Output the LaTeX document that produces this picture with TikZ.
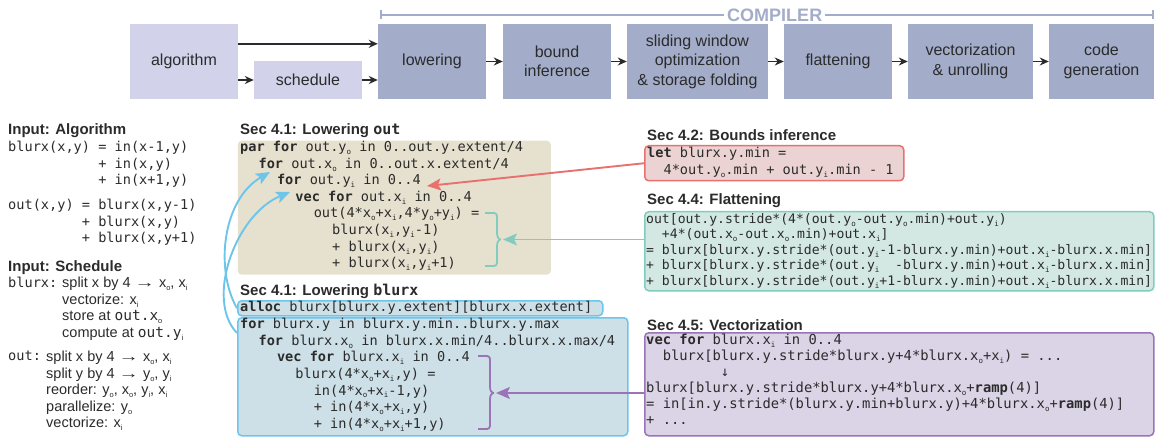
\documentclass[tikz,border=0pt]{standalone}
\usepackage{fontspec}
\setmainfont{Liberation Sans}
\setmonofont{DejaVu Sans Mono}
\usetikzlibrary{arrows.meta,calc}

\definecolor{inkgray}{HTML}{2B2B2B}
\definecolor{inputblue}{HTML}{D2D3EA}
\definecolor{stageblue}{HTML}{A3ADCA}
\definecolor{tanfill}{HTML}{E6E0CE}
\definecolor{skyline}{HTML}{6DC5EA}
\definecolor{skyfill}{HTML}{CEE0E7}
\definecolor{redline}{HTML}{E8716F}
\definecolor{redfill}{HTML}{ECD3D3}
\definecolor{tealline}{HTML}{80CDC0}
\definecolor{tealfill}{HTML}{D3E8E2}
\definecolor{purpline}{HTML}{9B73B7}
\definecolor{purpfill}{HTML}{DBD3E6}

\newcommand{\idx}[1]{\raisebox{-0.4ex}{\fontsize{7.5}{7.5}\selectfont #1}}
\newcommand{\kw}[1]{\textbf{#1}}
\newcommand{\ind}[1]{\hspace*{#1\dimexpr18.4pt\relax}}
\newcommand{\col}[1]{\hspace*{#1\fontcharwd\font`0}}
\newcommand{\splitarrow}{\scalebox{1.4}[1]{→}}
\newcommand{\codesize}{\ttfamily\fontsize{13.6}{16.6}\selectfont}

\begin{document}
\begin{tikzpicture}[x=1pt, y=-1pt, text=inkgray,
    stage/.style={fill=stageblue, minimum height=75, align=center, inner sep=0pt, font=\fontsize{16}{19.5}\selectfont},
    inputbox/.style={fill=inputblue, align=center, inner sep=0pt, font=\fontsize{16}{19.5}\selectfont},
    flow/.style={-{Stealth[length=9pt,width=8pt]}, line width=1.6pt, draw=inkgray},
    head/.style={anchor=base west, inner sep=0pt, font=\bfseries\fontsize{15}{18}\selectfont},
    code/.style={anchor=north west, inner sep=0pt, align=left, font=\codesize},
    note/.style={anchor=north west, inner sep=0pt, align=left, font=\fontsize{14.5}{16.5}\selectfont},
    panel/.style={anchor=north west, inner sep=0pt, rounded corners=4pt, line width=1.5pt},
    hint/.style={line width=1.9pt, -{Stealth[length=14pt,width=12pt,inset=3pt]}},
    brace/.style={line width=1.8pt, rounded corners=3pt}]

        \useasboundingbox (0,0) rectangle (1156,438);

        % The pipeline along the top
        \node[inputbox, minimum width=108, minimum height=75] (alg) at (184,61.5) {algorithm};
        \node[inputbox, minimum width=108, minimum height=38] (sched) at (308,80) {schedule};
        \node[stage, minimum width=108] (lower) at (432,61.5) {lowering};
        \node[stage, minimum width=108] (bound) at (557,61.5) {bound\\inference};
        \node[stage, minimum width=141] (slide) at (697.5,61.5) {sliding window\\optimization\\\& storage folding};
        \node[stage, minimum width=108] (flat) at (838,61.5) {flattening};
        \node[stage, minimum width=125] (vecu) at (970.5,61.5) {vectorization\\\& unrolling};
        \node[stage, minimum width=105] (cgen) at (1101.5,61.5) {code\\generation};

        \draw[flow] ($(alg.north east)+(0,20)$) -- ($(lower.north west)+(0,20)$);
        \draw[flow] (alg.east |- sched.west) -- (sched.west);
        \draw[flow] (sched.east) -- (sched.east -| lower.west);
        \foreach \a/\b in {lower/bound, bound/slide, slide/flat, flat/vecu, vecu/cgen}
            \draw[flow] (\a) -- (\b);

        % Bracket over the compiler stages
        \coordinate (cmpl) at (380,15);
        \coordinate (cmpr) at (1154,15);
        \draw[stageblue, line width=1.6pt, {Bar[width=9pt]}-{Bar[width=9pt]}] (cmpl) -- node[pos=0.51, fill=white, text=stageblue, inner xsep=3pt, inner ysep=1pt, font=\bfseries\fontsize{18}{18}\selectfont] (cmplbl) {COMPILER} (cmpr);

        % Left column: the inputs
        \node[head] (inalg) at (8,135) {Input: Algorithm};
        \node[code] (algcode) at (8,141) {blurx(x,y) = in(x-1,y)\\\col{11}+ in(x,y)\\\col{11}+ in(x+1,y)};
        \node[code] (outcode) at (8,199) {out(x,y) = blurx(x,y-1)\\\col{9}+ blurx(x,y)\\\col{9}+ blurx(x,y+1)};

        \node[head] (insched) at (8,272) {Input: Schedule};
        \node[code] (blurxlbl) at (8,277) {blurx:};
        \node[note] (blurxsch) at (62,277) {split x by 4 \splitarrow{} x\idx{o}, x\idx{i}\\vectorize: x\idx{i}\\store at \texttt{out.x}\idx{o}\\compute at \texttt{out.y}\idx{i}};
        \node[code] (outlbl) at (8,351) {out:};
        \node[note] (outsch) at (46,351) {split x by 4 \splitarrow{} x\idx{o}, x\idx{i}\\split y by 4 \splitarrow{} y\idx{o}, y\idx{i}\\reorder: y\idx{o}, x\idx{o}, y\idx{i}, x\idx{i}\\parallelize: y\idx{o}\\vectorize: x\idx{i}};

        % Middle column: lowering out
        \node[head] (lowohead) at (240,135) {Sec 4.1: Lowering \texttt{out}};
        \node[panel, fill=tanfill, minimum width=313, minimum height=134] (lowobox) at (237,140) {};
        \node[code] (lowocode) at (240,141) {\kw{par for} out.y\idx{o} in 0..out.y.extent/4\\
            \ind{1}\kw{for} out.x\idx{o} in 0..out.x.extent/4\\
            \ind{2}\kw{for} out.y\idx{i} in 0..4\\
            \ind{3}\kw{vec for} out.x\idx{i} in 0..4\\
            \ind{4}out(4*x\idx{o}+x\idx{i},4*y\idx{o}+y\idx{i}) =\\
            \ind{5}blurx(x\idx{i},y\idx{i}-1)\\
            \ind{5}+ blurx(x\idx{i},y\idx{i})\\
            \ind{5}+ blurx(x\idx{i},y\idx{i}+1)};

        % Middle column: lowering blurx
        \node[head] (lowbhead) at (240,295) {Sec 4.1: Lowering \texttt{blurx}};
        \node[panel, draw=skyline, fill=skyfill, minimum width=365, minimum height=15] (allocbox) at (237,300) {};
        \node[code] (alloccode) at (240,301) {\kw{alloc} blurx[blurx.y.extent][blurx.x.extent]};
        \node[panel, draw=skyline, fill=skyfill, minimum width=390, minimum height=118] (forbox) at (237,317) {};
        \node[code] (forcode) at (240,318) {\kw{for} blurx.y in blurx.y.min..blurx.y.max\\
            \ind{1}\kw{for} blurx.x\idx{o} in blurx.x.min/4..blurx.x.max/4\\
            \ind{2}\kw{vec for} blurx.x\idx{i} in 0..4\\
            \ind{3}blurx(4*x\idx{o}+x\idx{i},y) =\\
            \ind{4}in(4*x\idx{o}+x\idx{i}-1,y)\\
            \ind{4}+ in(4*x\idx{o}+x\idx{i},y)\\
            \ind{4}+ in(4*x\idx{o}+x\idx{i}+1,y)};

        % Right column: bounds inference
        \node[head] (bndhead) at (647,141) {Sec 4.2: Bounds inference};
        \node[panel, draw=redline, fill=redfill, minimum width=259, minimum height=35] (bndbox) at (644,145) {};
        \node[code] (bndcode) at (647,147) {\kw{let} blurx.y.min =\\\col{2}4*out.y\idx{o}.min + out.y\idx{i}.min - 1};

        % Right column: flattening
        \node[head] (flathead) at (647,205) {Sec 4.4: Flattening};
        \node[panel, draw=tealline, fill=tealfill, minimum width=509, minimum height=79] (flatbox) at (644,211) {};
        \node[code, font=\ttfamily\fontsize{13.1}{15.5}\selectfont] (flatcode) at (646,213) {out[out.y.stride*(4*(out.y\idx{o}-out.y\idx{o}.min)+out.y\idx{i})\\
            \col{2}+4*(out.x\idx{o}-out.x\idx{o}.min)+out.x\idx{i}]\\
            = blurx[blurx.y.stride*(out.y\idx{i}-1-blurx.y.min)+out.x\idx{i}-blurx.x.min]\\
            + blurx[blurx.y.stride*(out.y\idx{i}\col{2}-blurx.y.min)+out.x\idx{i}-blurx.x.min]\\
            + blurx[blurx.y.stride*(out.y\idx{i}+1-blurx.y.min)+out.x\idx{i}-blurx.x.min]};

        % Right column: vectorization
        \node[head] (vechead) at (647,330) {Sec 4.5: Vectorization};
        \node[panel, draw=purpline, fill=purpfill, minimum width=509, minimum height=103] (vecbox) at (644,332) {};
        \node[code, font=\ttfamily\fontsize{13.8}{16}\selectfont] (veccode) at (646,334) {\kw{vec for} blurx.x\idx{i} in 0..4\\
            \col{2}blurx[blurx.y.stride*blurx.y+4*blurx.x\idx{o}+x\idx{i}) = ...\\
            \col{9}↓\\
            blurx[blurx.y.stride*blurx.y+4*blurx.x\idx{o}+\kw{ramp}(4)]\\
            = in[in.y.stride*(blurx.y.min+blurx.y)+4*blurx.x\idx{o}+\kw{ramp}(4)]\\
            + ...};

        % Braces grouping the loop bodies
        \draw[brace, tealline] (485,213) -- (497,213) -- (497,230) .. controls (497,237) and (499,239.5) .. (503,239.5) .. controls (499,239.5) and (497,242) .. (497,249) -- (497,266) -- (485,266);
        \draw[brace, purpline] (478,356) -- (490,356) -- (490,384) .. controls (490,391) and (492,393) .. (496,393) .. controls (492,393) and (490,395) .. (490,402) -- (490,429) -- (478,429);

        % Arrows from each pass back into the lowered code
        \coordinate (yiend) at (427,186);
        \coordinate (tealtip) at (503,239.5);
        \coordinate (purptip) at (496,393);
        \draw[hint, redline] (bndbox.west) -- (yiend);
        \draw[hint, tealline] (tealtip -| flatbox.west) -- (tealtip);
        \draw[hint, purpline] (purptip -| vecbox.west) -- (purptip);

        % Where the schedule puts the storage and the computation of blurx
        \coordinate (storetip) at (270,172);
        \coordinate (computetip) at (290,192);
        \coordinate (compat) at (237,333);
        \draw[hint, skyline] (allocbox.west) .. controls (215,270) and (222,200) .. (storetip);
        \draw[hint, skyline] (compat) .. controls (205,300) and (235,215) .. (computetip);

\end{tikzpicture}
\end{document}
